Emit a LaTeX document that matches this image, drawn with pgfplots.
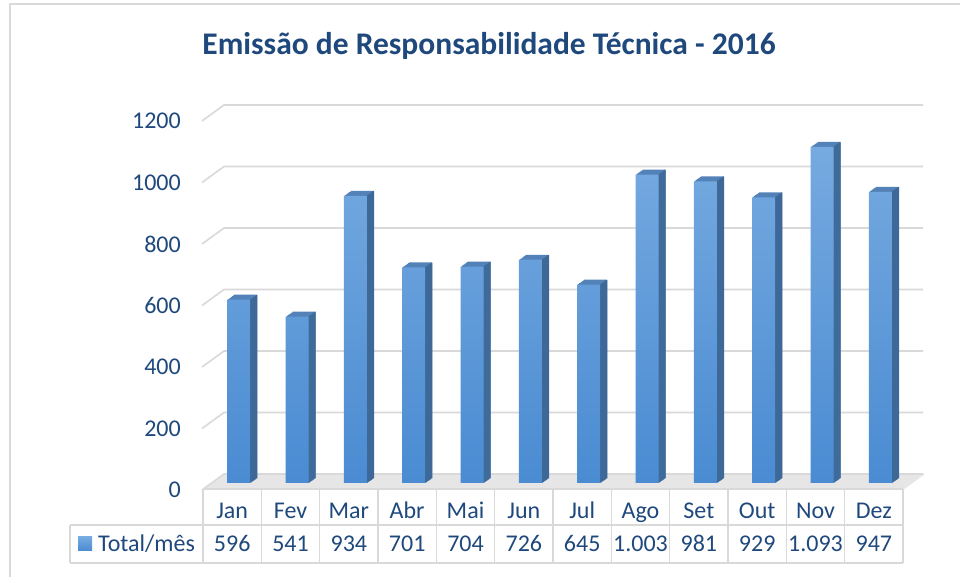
\documentclass[border=0pt]{standalone}
\usepackage{pgfplots}
\usepackage{pgfplotstable}
\pgfplotsset{compat=1.18}
\usepackage{fontspec}
\setmainfont{Carlito}
\definecolor{textc}{HTML}{1F497D}
\definecolor{gridc}{HTML}{D9D9D9}
\definecolor{frontTop}{HTML}{76AAE0}
\definecolor{frontBot}{HTML}{4A8BD2}
\definecolor{sidec}{HTML}{3D6898}
\definecolor{topc}{HTML}{5282B8}
\definecolor{legc}{HTML}{5B9BD5}
\definecolor{floorc}{HTML}{E6E6E6}

\pgfplotstableread{
x y lab mes
0 596 596 Jan
1 541 541 Fev
2 934 934 Mar
3 701 701 Abr
4 704 704 Mai
5 726 726 Jun
6 645 645 Jul
7 1003 1.003 Ago
8 981 981 Set
9 929 929 Out
10 1093 1.093 Nov
11 947 947 Dez
}\data

\newcommand{\lblfont}{\fontsize{24}{28}\selectfont}

\begin{document}
\begin{tikzpicture}
\path[use as bounding box, fill=white] (0,0) rectangle (960pt,577pt);
\draw[gridc, line width=1.5pt] (10pt,0pt) -- (10pt,573pt) -- (961pt,573pt);
\node[text=textc, font={\fontsize{31.5}{36}\selectfont\bfseries}] at (489pt,531pt) {Emissão de Responsabilidade Técnica - 2016};
\begin{axis}[
  at={(203pt,94pt)}, anchor=south west,
  scale only axis, width=700pt, height=369pt,
  xmin=-0.5, xmax=11.5, ymin=0, ymax=1200,
  clip=false,
  axis line style={draw=none},
  major tick length=0pt,
  ytick={0,200,...,1200},
  xtick=data,
  xticklabels from table={\data}{mes},
  /pgf/number format/.cd, 1000 sep={}, assume math mode=true, /pgfplots/.cd,
  yticklabel style={font=\lblfont, text=textc, inner sep=0pt, anchor=east, xshift=-22pt, yshift=-7pt},
  xticklabel style={font=\lblfont, text=textc, anchor=base, yshift=-36pt},
  legend style={at={(-0.1786,-0.1653)}, anchor=west, draw=none, fill=none, inner sep=0pt,
    font=\lblfont, text=textc, legend cell align=left},
  legend image code/.code={\fill[legc] (0pt,-7pt) rectangle (14pt,7pt); \path (18pt,0pt);},
]
% floor
\fill[floorc] ([yshift=-7pt]axis cs:-0.5,0) -- ([yshift=-7pt]axis cs:11.5,0)
  -- ([xshift=22pt,yshift=9pt]axis cs:11.5,0) -- ([xshift=22pt,yshift=9pt]axis cs:-0.5,0) -- cycle;
% back wall gridlines
\pgfplotsinvokeforeach{0,200,...,1200}{
  \draw[gridc, line width=1.6pt] ([xshift=-1pt,yshift=-7pt]axis cs:-0.5,#1)
    -- ([xshift=21pt,yshift=9pt]axis cs:-0.5,#1) -- ([xshift=20pt,yshift=9pt]axis cs:11.5,#1);
}
% table grid
\pgfplotsinvokeforeach{-0.5,0.5,...,11.5}{
  \draw[gridc, line width=1.5pt] ([yshift=-6pt]axis cs:#1,0) -- ([yshift=-80pt]axis cs:#1,0);
}
\draw[gridc, line width=1.5pt] ([yshift=-6pt]axis cs:-0.5,0) -- ([yshift=-6pt]axis cs:11.5,0);
\draw[gridc, line width=1.5pt] ([xshift=-133pt,yshift=-42pt]axis cs:-0.5,0) -- ([yshift=-42pt]axis cs:11.5,0);
\draw[gridc, line width=1.5pt] ([xshift=-133pt,yshift=-80pt]axis cs:-0.5,0) -- ([yshift=-80pt]axis cs:11.5,0);
\draw[gridc, line width=1.5pt] ([xshift=-133pt,yshift=-42pt]axis cs:-0.5,0) -- ([xshift=-133pt,yshift=-80pt]axis cs:-0.5,0);
% top face (depth copies)
\pgfplotsinvokeforeach{7,6,5,4,3,2,1}{
  \addplot[ybar, bar width=23pt, bar shift=6.5pt, xshift=#1pt, yshift={#1*0.714pt}, fill=topc, draw=none, forget plot]
    table[x=x,y=y]{\data};
}
% side face
\pgfplotsinvokeforeach{1,2,3,4,5,6,7}{
  \addplot[ybar, bar width=1.4pt, bar shift={18pt+#1pt-0.5pt}, yshift={#1*0.714pt-0.36pt}, fill=sidec, draw=none, forget plot]
    table[x=x,y=y]{\data};
}
% front face
\addplot[ybar, bar width=23pt, bar shift=6.5pt, draw=none, top color=frontTop, bottom color=frontBot]
  table[x=x,y=y]{\data};
\addlegendentry{Total/mês}
% value row
\addplot[draw=none, mark=none, forget plot, nodes near coords, point meta=explicit symbolic,
  every node near coord/.append style={anchor=base, yshift=-69pt, font=\lblfont, text=textc, inner sep=0pt}]
  table[x=x, y expr=0, meta=lab]{\data};
\end{axis}
\end{tikzpicture}
\end{document}
